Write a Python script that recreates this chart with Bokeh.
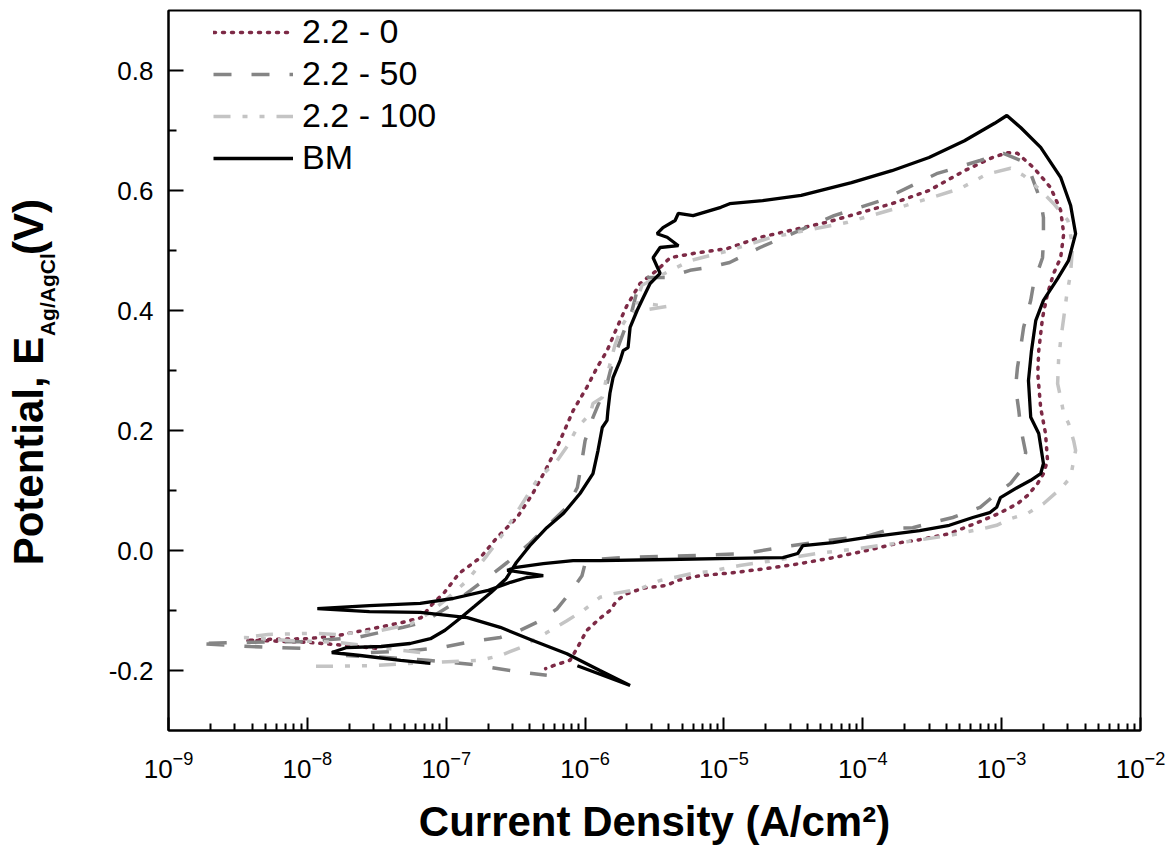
import math
from bokeh.plotting import figure
from bokeh.models import (Range1d, FixedTicker, LogTickFormatter, PrintfTickFormatter,
                          LinearAxis, Legend, LegendItem)
from bokeh.embed import file_html
from bokeh.resources import INLINE

FONT = "Liberation Sans"
NB = "\u00a0"

# ---------------- data (current density A/cm^2, potential V vs Ag/AgCl) ----------------
s0_current = [3.1e-8, 1.85e-8, 1.0e-8, 4.6e-9, 3.6e-9, 5.4e-9, 1.0e-8, 1.64e-8, 2.57e-8, 4.8e-8,
              6.6e-8, 7.9e-8, 9.7e-8, 1.24e-7, 1.76e-7, 2.33e-7, 3.24e-7, 4.2e-7, 5.3e-7, 6.6e-7,
              8.2e-7, 1.03e-6, 1.22e-6, 1.44e-6, 1.70e-6, 2.0e-6, 2.49e-6, 3.3e-6, 4.1e-6, 6.0e-6,
              1.05e-5, 1.82e-5, 5.5e-5, 1.62e-4, 3.0e-4, 5.4e-4, 8.6e-4, 1.10e-3, 1.30e-3, 1.70e-3,
              2.25e-3, 2.66e-3, 2.8e-3, 2.66e-3, 2.37e-3, 2.14e-3, 1.97e-3, 1.85e-3, 1.82e-3, 1.91e-3,
              2.07e-3, 2.14e-3, 2.0e-3, 1.82e-3, 1.54e-3, 1.30e-3, 9.8e-4, 7.3e-4, 4.2e-4, 2.45e-4,
              1.85e-4, 1.07e-4, 6.1e-5, 3.5e-5, 2.04e-5, 1.16e-5, 6.7e-6, 4.6e-6, 3.9e-6, 2.6e-6,
              2.0e-6, 1.70e-6, 1.51e-6, 1.28e-6, 1.03e-6, 8.8e-7, 7.8e-7, 5.9e-7, 5.2e-7]
s0_potential = [-0.163, -0.158, -0.153, -0.150, -0.150, -0.148, -0.147, -0.142, -0.133, -0.120,
                -0.112, -0.090, -0.070, -0.038, -0.012, 0.022, 0.055, 0.095, 0.138, 0.183,
                0.233, 0.272, 0.305, 0.333, 0.372, 0.408, 0.445, 0.467, 0.488, 0.495,
                0.503, 0.522, 0.547, 0.578, 0.600, 0.633, 0.655, 0.663, 0.662, 0.638,
                0.605, 0.567, 0.528, 0.488, 0.462, 0.428, 0.388, 0.333, 0.295, 0.238,
                0.195, 0.150, 0.128, 0.112, 0.092, 0.078, 0.063, 0.050, 0.028, 0.017,
                0.013, 0.000, -0.012, -0.022, -0.030, -0.037, -0.042, -0.050, -0.058, -0.063,
                -0.072, -0.083, -0.100, -0.113, -0.133, -0.162, -0.183, -0.192, -0.197]

s50_current = [8.9e-9, 3.9e-9, 1.62e-9, 3.5e-9, 8.9e-9, 2.29e-8, 4.9e-8, 6.8e-8, 1.07e-7, 1.49e-7,
               2.07e-7, 2.75e-7, 4.0e-7, 5.2e-7, 7.4e-7, 8.8e-7, 9.5e-7, 1.0e-6, 1.14e-6, 1.28e-6,
               1.44e-6, 1.59e-6, 1.88e-6, 2.18e-6, 2.37e-6, 2.8e-6, 3.9e-6, 5.7e-6, 7.9e-6, 1.1e-5,
               1.82e-5, 6.2e-5, 1.35e-4, 3.4e-4, 7.0e-4, 1.03e-3,
               1.37e-3, 1.64e-3, 1.91e-3, 2.0e-3, 2.0e-3, 1.97e-3, 1.70e-3, 1.62e-3, 1.44e-3, 1.37e-3,
               1.30e-3, 1.26e-3, 1.33e-3, 1.37e-3, 1.49e-3, 1.37e-3, 1.16e-3, 9.2e-4, 7.0e-4, 4.45e-4,
               3.2e-4, 2.29e-4, 1.64e-4, 1.12e-4, 8.5e-5, 2.84e-5, 1.42e-5, 6.7e-6, 3.47e-6, 1.79e-6,
               1.18e-6, 1.0e-6, 9.5e-7, 7.8e-7, 6.3e-7, 4.75e-7, 3.4e-7, 2.45e-7, 1.49e-7, 9.1e-8,
               5.5e-8, 2.8e-8, 1.9e-8, 3.5e-8, 7.4e-8, 1.56e-7, 3.24e-7, 5.3e-7]
s50_potential = [-0.163, -0.160, -0.155, -0.153, -0.152, -0.145, -0.128, -0.120, -0.092, -0.067,
                 -0.042, -0.020, 0.012, 0.038, 0.072, 0.105, 0.150, 0.183, 0.222, 0.250,
                 0.278, 0.317, 0.362, 0.400, 0.433, 0.455, 0.455, 0.467, 0.472, 0.480,
                 0.505, 0.558, 0.583, 0.628, 0.650, 0.662,
                 0.650, 0.625, 0.583, 0.555, 0.517, 0.488, 0.445, 0.417, 0.372, 0.338,
                 0.305, 0.272, 0.233, 0.205, 0.163, 0.133, 0.112, 0.095, 0.072, 0.055,
                 0.047, 0.038, 0.037, 0.025, 0.022, 0.007, -0.005, -0.008, -0.010, -0.012,
                 -0.015, -0.022, -0.042, -0.070, -0.097, -0.117, -0.133, -0.145, -0.152, -0.162,
                 -0.167, -0.170, -0.175, -0.178, -0.183, -0.190, -0.202, -0.208]

s100_current = [6.5e-8, 3.4e-8, 1.64e-8, 7.5e-9, 3.5e-9, 5.2e-9, 1.12e-8, 1.64e-8, 3.4e-8, 5.5e-8,
                7.7e-8, 9.8e-8, 1.42e-7, 1.97e-7, 2.57e-7, 3.4e-7, 4.5e-7, 6.3e-7, 7.5e-7, 8.8e-7,
                1.09e-6, 1.14e-6, 1.33e-6, 1.44e-6, 1.64e-6, 1.85e-6, 2.11e-6, 3.96e-6, 2.33e-6, 2.57e-6,
                3.47e-6, 5.7e-6, 1.1e-5, 2.2e-5, 7.8e-5, 1.85e-4, 5.0e-4, 7.8e-4, 1.16e-3,
                1.44e-3, 1.91e-3, 2.37e-3, 3.0e-3, 3.24e-3, 3.14e-3, 2.94e-3, 2.8e-3, 2.66e-3, 2.57e-3,
                2.53e-3, 2.66e-3, 2.8e-3, 3.03e-3, 3.3e-3, 3.41e-3, 3.3e-3, 3.14e-3, 2.66e-3, 2.0e-3,
                1.54e-3, 1.16e-3, 9.2e-4, 7.8e-4, 4.2e-4, 2.45e-4, 1.85e-4, 8.5e-5, 4.7e-5, 2.25e-5,
                1.3e-5, 7.9e-6, 6.0e-6, 3.47e-6, 2.6e-6, 2.11e-6, 1.59e-6, 1.28e-6, 9.7e-7, 7.4e-7,
                5.2e-7, 3.4e-7, 2.45e-7, 1.76e-7, 1.12e-7, 5.8e-8, 2.8e-8, 1.54e-8, 1.05e-8]
s100_potential = [-0.170, -0.162, -0.153, -0.150, -0.145, -0.140, -0.138, -0.140, -0.133, -0.123,
                  -0.103, -0.083, -0.050, -0.008, 0.028, 0.072, 0.117, 0.150, 0.175, 0.205,
                  0.228, 0.245, 0.255, 0.292, 0.342, 0.375, 0.397, 0.407, 0.413, 0.442,
                  0.458, 0.483, 0.500, 0.522, 0.547, 0.572, 0.603, 0.627, 0.637,
                  0.625, 0.600, 0.578, 0.550, 0.508, 0.462, 0.425, 0.388, 0.350, 0.317,
                  0.278, 0.255, 0.228, 0.212, 0.183, 0.167, 0.150, 0.122, 0.103, 0.078,
                  0.062, 0.053, 0.042, 0.038, 0.025, 0.017, 0.013, 0.002, -0.005, -0.017,
                  -0.025, -0.035, -0.038, -0.050, -0.062, -0.067, -0.072, -0.078, -0.100, -0.117,
                  -0.138, -0.162, -0.175, -0.183, -0.185, -0.188, -0.192, -0.193, -0.193]

bm_current = [7.7e-8, 4.7e-8, 2.4e-8, 1.5e-8, 1.9e-8, 3.4e-8, 5.5e-8, 7.7e-8, 9.8e-8, 1.26e-7,
              1.6e-7, 2.1e-7, 2.7e-7, 3.2e-7, 4.0e-7, 5.3e-7, 7.0e-7, 9.2e-7, 1.14e-6, 1.24e-6,
              1.33e-6, 1.44e-6, 1.46e-6, 1.51e-6, 1.59e-6, 1.79e-6, 1.88e-6, 2.04e-6, 2.11e-6, 2.37e-6,
              2.57e-6, 2.94e-6, 3.47e-6, 3.09e-6, 3.47e-6, 4.7e-6, 3.9e-6, 3.3e-6, 3.64e-6, 4.45e-6,
              4.7e-6, 6.0e-6, 9.5e-6, 1.1e-5, 1.9e-5, 3.6e-5, 8.3e-5, 1.62e-4, 3.0e-4, 5.4e-4,
              8.9e-4, 1.09e-3,
              1.37e-3, 1.91e-3, 2.66e-3, 3.14e-3, 3.41e-3, 3.03e-3, 2.53e-3, 2.0e-3, 1.76e-3, 1.64e-3,
              1.56e-3, 1.62e-3, 1.85e-3, 2.0e-3, 1.91e-3, 1.62e-3, 1.30e-3, 9.8e-4, 9.2e-4, 8.2e-4,
              6.2e-4, 4.2e-4, 2.57e-4, 1.07e-4, 6.1e-5, 3.7e-5, 3.4e-5, 2.66e-5, 1.16e-5, 3.9e-6,
              1.28e-6, 8.2e-7, 5.0e-7, 3.2e-7, 2.75e-7, 5.0e-7, 3.8e-7, 2.9e-7, 1.97e-7, 1.12e-7,
              6.5e-8, 2.8e-8, 1.18e-8, 2.8e-8, 6.5e-8, 1.42e-7, 2.45e-7, 4.2e-7, 7.4e-7, 1.28e-6,
              2.11e-6, 8.8e-7]
bm_potential = [-0.188, -0.183, -0.175, -0.170, -0.162, -0.160, -0.155, -0.147, -0.133, -0.113,
                -0.093, -0.070, -0.047, -0.020, 0.008, 0.038, 0.062, 0.095, 0.128, 0.167,
                0.205, 0.217, 0.233, 0.262, 0.288, 0.317, 0.333, 0.338, 0.372, 0.400,
                0.417, 0.445, 0.462, 0.488, 0.505, 0.508, 0.522, 0.528, 0.538, 0.550,
                0.562, 0.558, 0.572, 0.578, 0.583, 0.592, 0.613, 0.633, 0.655, 0.683,
                0.712, 0.725,
                0.705, 0.672, 0.622, 0.575, 0.528, 0.483, 0.453, 0.417, 0.383, 0.333,
                0.283, 0.222, 0.195, 0.145, 0.128, 0.117, 0.105, 0.088, 0.072, 0.063,
                0.055, 0.042, 0.033, 0.022, 0.013, 0.008, -0.005, -0.012, -0.013, -0.015,
                -0.017, -0.017, -0.022, -0.028, -0.033, -0.042, -0.045, -0.053, -0.067, -0.080,
                -0.088, -0.092, -0.097, -0.102, -0.103, -0.112, -0.128, -0.150, -0.172, -0.200,
                -0.225, -0.192]

series_labels = ["2.2 - 0", "2.2 - 50", "2.2 - 100", "BM"]

x_major_ticks = [1e-9, 1e-8, 1e-7, 1e-6, 1e-5, 1e-4, 1e-3, 1e-2]
y_major_ticks = [-0.2, 0.0, 0.2, 0.4, 0.6, 0.8]
y_minor_ticks = [-0.1, 0.1, 0.3, 0.5, 0.7]

x_title = "Current Density (A/cm\u00b2)"
y_title_main = "Potential, E" + NB * 7 + "(V)" + NB * 2
y_title_sub = NB * 26 + "Ag/AgCl"

# ---------------- figure ----------------
p = figure(x_axis_type="log",
           x_range=Range1d(1e-9, 1e-2), y_range=Range1d(-0.3, 0.9),
           frame_width=972, frame_height=720,
           min_border_left=168, min_border_right=30, min_border_top=10, min_border_bottom=122,
           output_backend="svg", toolbar_location=None)
p.background_fill_color = "white"
p.border_fill_color = "white"
p.outline_line_color = "black"
p.outline_line_width = 2
p.xgrid.visible = False
p.ygrid.visible = False

x_minor_ticks = [m * t for t in x_major_ticks[:-1] for m in range(2, 10)]
xax = p.xaxis[0]
yax = p.yaxis[0]
xax.ticker = FixedTicker(ticks=x_major_ticks, minor_ticks=x_minor_ticks)
xax.formatter = LogTickFormatter(min_exponent=0)
yax.ticker = FixedTicker(ticks=y_major_ticks, minor_ticks=y_minor_ticks)
yax.formatter = PrintfTickFormatter(format="%.1f")

for ax in (xax, yax):
    ax.axis_line_width = 2
    ax.axis_line_color = "black"
    ax.major_tick_line_width = 2
    ax.minor_tick_line_width = 2
    ax.major_tick_line_color = "black"
    ax.minor_tick_line_color = "black"
    ax.major_tick_out = 0
    ax.minor_tick_out = 0
    ax.major_label_text_font = FONT
    ax.major_label_text_font_size = "26px"
    ax.major_label_text_color = "black"
    ax.axis_label_text_font = FONT
    ax.axis_label_text_font_style = "bold"
    ax.axis_label_text_color = "black"
yax.major_tick_in = 15
yax.minor_tick_in = 8
xax.major_tick_in = 13
xax.minor_tick_in = 7
yax.major_label_standoff = 15
xax.major_label_standoff = 20

xax.axis_label = x_title
xax.axis_label_text_font_size = "42px"
xax.axis_label_standoff = 17

yax.axis_label = y_title_sub
yax.axis_label_text_font_size = "21px"
yax.axis_label_standoff = 47

ytitle_axis = LinearAxis(ticker=FixedTicker(ticks=[]), axis_line_color=None,
                         major_tick_line_color=None, minor_tick_line_color=None,
                         major_tick_out=0, minor_tick_out=0, major_tick_in=0, minor_tick_in=0,
                         major_label_standoff=0, major_label_text_font_size="1px",
                         axis_label=y_title_main, axis_label_text_font=FONT,
                         axis_label_text_font_style="bold", axis_label_text_font_size="42px",
                         axis_label_text_color="black", axis_label_standoff=-19)
p.add_layout(ytitle_axis, "left")

r0 = p.line(s0_current, s0_potential, line_color="#7d2a46", line_width=3.5,
            line_dash="2 7", line_cap="round")
r50 = p.line(s50_current, s50_potential, line_color="#858585", line_width=3.5,
             line_dash="18 20")
r100 = p.line(s100_current, s100_potential, line_color="#c4c4c4", line_width=3.5,
              line_dash="17 12 5 12 5 12")
rbm = p.line(bm_current, bm_potential, line_color="black", line_width=3.3)

legend = Legend(items=[LegendItem(label=series_labels[0], renderers=[r0]),
                       LegendItem(label=series_labels[1], renderers=[r50]),
                       LegendItem(label=series_labels[2], renderers=[r100]),
                       LegendItem(label=series_labels[3], renderers=[rbm])],
                location=(45, 553), border_line_color=None, background_fill_alpha=0,
                label_text_font=FONT, label_text_font_size="34px", label_text_color="black",
                glyph_width=80, glyph_height=36, label_height=36, spacing=3,
                padding=0, margin=0, label_standoff=9)
p.add_layout(legend)

open("out.html", "w").write(file_html(p, INLINE))
